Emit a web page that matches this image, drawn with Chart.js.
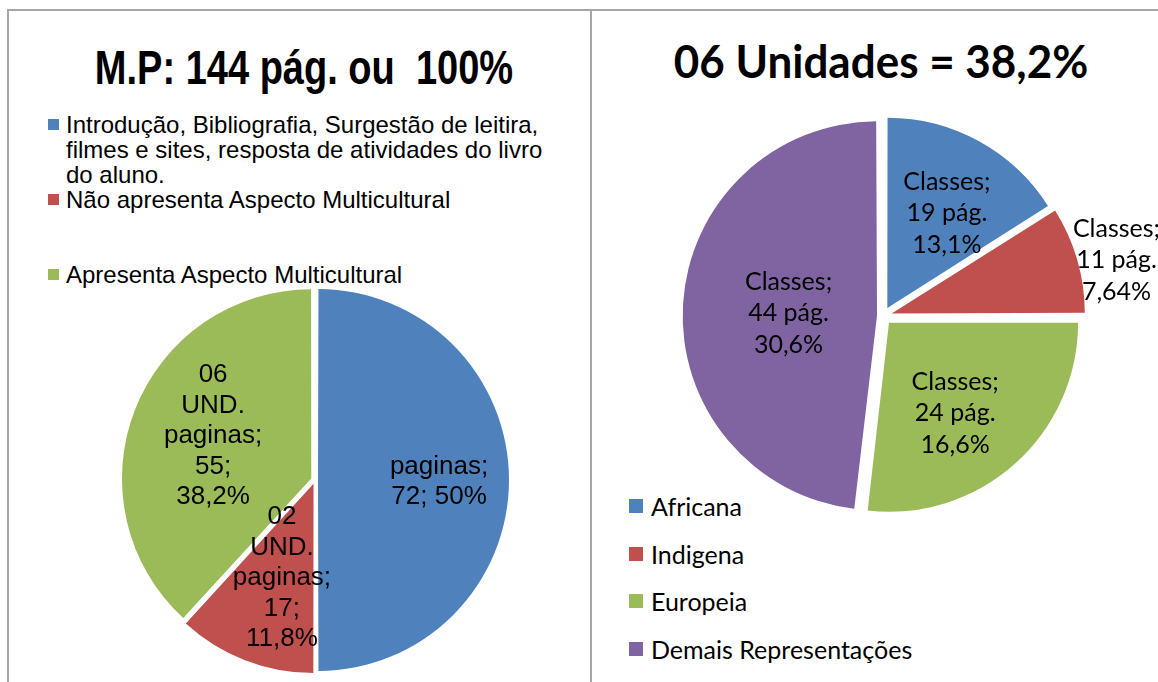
<!DOCTYPE html>
<html>
<head>
<meta charset="utf-8">
<script src="https://cdn.jsdelivr.net/npm/chart.js@4.4.1/dist/chart.umd.min.js"></script>
<style>
  body { margin: 0; background: #fff; }
  #page { position: relative; width: 1158px; height: 682px; overflow: hidden; background: #fff; }
  .rule { position: absolute; background: #a6a6a6; }
  canvas { position: absolute; }
  .title { position: absolute; text-align: center; font-weight: bold; color: #000; white-space: nowrap; }
  #t1 { left: 8px; top: 44px; width: 592px; font: bold 48px "Liberation Sans", Arial, sans-serif; line-height: 48px; transform: scaleX(0.792); }
  #t2 { left: 591px; top: 37px; width: 580px; font: bold 46px Lato, "Open Sans", sans-serif; line-height: 48px; transform: scaleX(0.956); }
  .lg { position: absolute; color: #000; white-space: nowrap; }
  .lg i { position: absolute; display: block; }
  .lgL { font: 24px "Liberation Sans", Arial, sans-serif; line-height: 25px; }
  .lgL i { left: -18px; top: 7px; width: 11px; height: 11px; }
  .lgR { font: 25px Lato, sans-serif; line-height: 30px; }
  .lgR i { left: -22px; top: 8px; width: 14px; height: 14px; }
</style>
</head>
<body>
<div id="page">
  <div class="rule" style="left:8px;top:9px;width:1150px;height:2px"></div>
  <div class="rule" style="left:7px;top:9px;width:2px;height:673px"></div>
  <div class="rule" style="left:590px;top:9px;width:2px;height:673px"></div>
  <div class="title" id="t1"></div>
  <div class="title" id="t2"></div>
  <div id="legendL"></div>
  <div id="legendR"></div>
  <canvas id="pieL" style="left:0;top:0"></canvas>
  <canvas id="pieR" style="left:591px;top:0"></canvas>
</div>
<script>
// ---- left chart data
var titleL = 'M.P: 144 pág. ou\u00a0 100%';
var labelsL = [
  ['Introdução, Bibliografia, Surgestão de leitira,', 'filmes e sites, resposta de atividades do livro', 'do aluno.'],
  ['Não apresenta Aspecto Multicultural'],
  ['Apresenta Aspecto Multicultural']
];
var seriesL = 'paginas';
var pagesL = [72, 17, 55];
var pctL = ['50%', '11,8%', '38,2%'];
var unitsL = ['', '02', '06'];

// ---- right chart data
var titleR = '06 Unidades = 38,2%';
var labelsR = ['Africana', 'Indigena', 'Europeia', 'Demais Representações'];
var seriesR = 'Classes';
var pagesR = [19, 11, 24, 44];
var pctR = ['13,1%', '7,64%', '16,6%', '30,6%'];
var shareR = [16.0, 9.0, 26.8, 48.2];   // slice sizes as drawn

var colors = ['#4F81BD', '#C0504D', '#9BBB59', '#8064A2'];

document.getElementById('t1').textContent = titleL;
document.getElementById('t2').textContent = titleR;

// legends (html)
var legTopL = [112, 187, 262];
var html = '';
labelsL.forEach(function(lines, i){
  html += '<div class="lg lgL" style="left:66px;top:' + legTopL[i] + 'px"><i style="background:' + colors[i] + '"></i>' + lines.join('<br>') + '</div>';
});
document.getElementById('legendL').innerHTML = html;
html = '';
labelsR.forEach(function(t, i){
  html += '<div class="lg lgR" style="left:651px;top:' + (491 + i * 47.7) + 'px"><i style="background:' + colors[i] + '"></i>' + t + '</div>';
});
document.getElementById('legendR').innerHTML = html;

// text inside / next to the slices
var sliceText = {
  id: 'sliceText',
  afterDatasetsDraw: function(chart, args, o) {
    var ctx = chart.ctx;
    var meta = chart.getDatasetMeta(0);
    ctx.save();
    ctx.font = o.font;
    ctx.fillStyle = '#000';
    ctx.textAlign = 'center';
    ctx.textBaseline = 'middle';
    meta.data.forEach(function(arc, i) {
      var p = arc.getProps(['x', 'y', 'startAngle', 'endAngle', 'outerRadius'], true);
      var mid = (p.startAngle + p.endAngle) / 2 + o.turn[i] * Math.PI / 180;
      var r = p.outerRadius * o.dist[i];
      var cx = p.x + Math.cos(mid) * r, cy = p.y + Math.sin(mid) * r;
      var lines = o.lines[i];
      lines.forEach(function(t, j) {
        ctx.fillText(t, cx, cy + (j - (lines.length - 1) / 2) * o.lineHeight);
      });
    });
    ctx.restore();
  }
};

var linesL = pagesL.map(function(v, i) {
  if (!unitsL[i]) return [seriesL + ';', v + '; ' + pctL[i]];
  return [unitsL[i], 'UND.', seriesL + ';', v + ';', pctL[i]];
});
var linesR = pagesR.map(function(v, i) {
  return [seriesR + ';', v + ' pág.', pctR[i]];
});

function makePie(id, w, h, pad, data, radius, offset, labelOpts) {
  var cv = document.getElementById(id);
  cv.width = w; cv.height = h;
  return new Chart(cv, {
    type: 'pie',
    data: {
      labels: data.map(function(_, i){ return i; }),
      datasets: [{
        data: data,
        backgroundColor: colors.slice(0, data.length),
        borderWidth: 0,
        offset: offset
      }]
    },
    options: {
      responsive: false,
      animation: false,
      radius: radius,
      layout: { padding: pad },
      plugins: {
        legend: { display: false },
        tooltip: { enabled: false },
        sliceText: labelOpts
      }
    },
    plugins: [sliceText]
  });
}

makePie('pieL', 591, 682, {left: 115, right: 76, top: 280, bottom: 2}, pagesL, 188, [12, 16, 16], {
  font: '26px "Liberation Sans", Arial, sans-serif',
  lineHeight: 30.5,
  lines: linesL,
  dist: [0.66, 0.55, 0.59],
  turn: [0.9, -2.6, 2]
});

makePie('pieR', 567, 682, {left: 92, right: 75, top: 116, bottom: 166}, shareR, 189, [36, 36, 36, 24], {
  font: '25px Lato, sans-serif',
  lineHeight: 31.5,
  lines: linesR,
  dist: [0.64, 1.27, 0.64, 0.5],
  turn: [3.1, 2.8, 5.1, -1.4]
});
</script>
</body>
</html>
